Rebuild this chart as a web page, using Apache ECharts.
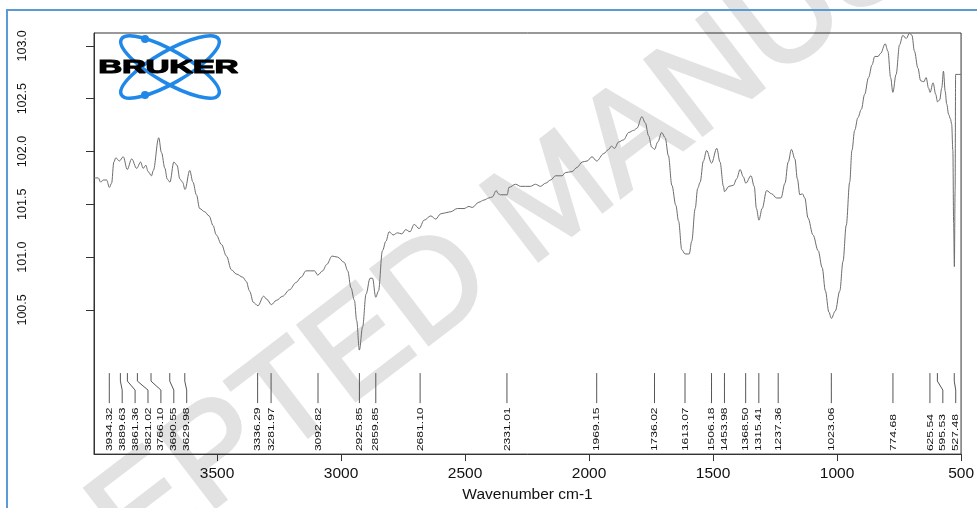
<!DOCTYPE html>
<html>
<head>
<meta charset="utf-8">
<script src="https://cdn.jsdelivr.net/npm/echarts@6/dist/echarts.min.js"></script>
<style>
  html, body { margin: 0; padding: 0; background: #ffffff; }
  #chart { width: 977px; height: 508px; }
</style>
</head>
<body>
<div id="chart"></div>
<script>
// FT-IR spectrum: wavenumber (cm-1) and transmittance (%)
const wavenumbers = [
  3996, 3979, 3969, 3959, 3945, 3934, 3925, 3916, 3908, 3894,
  3878, 3862, 3844, 3824, 3808, 3798, 3787, 3778, 3764, 3757,
  3735, 3724, 3710, 3701, 3690, 3674, 3661, 3650, 3639, 3629,
  3610, 3597, 3583, 3570, 3550, 3532, 3516, 3503, 3482, 3462,
  3442, 3422, 3396, 3382, 3369, 3353, 3335, 3312, 3299, 3281,
  3261, 3235, 3208, 3181, 3161, 3141, 3107, 3094, 3074, 3058,
  3036, 3014, 2987, 2973, 2960, 2946, 2937, 2926, 2913, 2899,
  2883, 2873, 2860, 2849, 2833, 2819, 2806, 2790, 2772, 2755,
  2739, 2722, 2705, 2685, 2665, 2638, 2618, 2598, 2578, 2558,
  2531, 2504, 2484, 2471, 2444, 2424, 2404, 2390, 2374, 2366,
  2357, 2330, 2323, 2296, 2276, 2256, 2236, 2216, 2196, 2175,
  2155, 2135, 2109, 2095, 2069, 2048, 2028, 2008, 1988, 1969,
  1941, 1921, 1910, 1897, 1881, 1861, 1840, 1820, 1807, 1787,
  1773, 1760, 1747, 1736, 1723, 1707, 1693, 1680, 1666, 1650,
  1639, 1626, 1613, 1596, 1586, 1572, 1562, 1552, 1539, 1526,
  1506, 1485, 1472, 1458, 1454, 1436, 1418, 1405, 1391, 1378,
  1368, 1347, 1334, 1325, 1315, 1302, 1284, 1264, 1244, 1226,
  1210, 1197, 1184, 1170, 1160, 1150, 1140, 1130, 1117, 1097,
  1076, 1060, 1047, 1033, 1023, 1007, 989, 976, 963, 949,
  940, 929, 916, 902, 889, 873, 859, 848, 835, 824,
  806, 795, 784, 775, 762, 748, 735, 721, 708, 698,
  688, 674, 663, 650, 641, 631, 625, 613, 602, 595,
  586, 578, 571, 564, 558, 550, 543, 538, 533, 530,
  527, 524, 522, 512, 500
];
const transmittance = [
  101.75, 101.75, 101.71, 101.73, 101.73, 101.66, 101.70, 101.90, 101.94, 101.91,
  101.95, 101.83, 101.93, 101.84, 101.90, 101.84, 101.87, 101.81, 101.77, 101.82,
  102.13, 101.99, 101.84, 101.74, 101.71, 101.90, 101.87, 101.74, 101.71, 101.64,
  101.82, 101.71, 101.59, 101.46, 101.43, 101.39, 101.30, 101.21, 101.12, 101.01,
  100.88, 100.84, 100.81, 100.77, 100.68, 100.57, 100.54, 100.63, 100.60, 100.55,
  100.59, 100.63, 100.69, 100.76, 100.81, 100.87, 100.87, 100.83, 100.87, 100.93,
  101.01, 101.00, 100.95, 100.87, 100.71, 100.59, 100.40, 100.12, 100.34, 100.65,
  100.80, 100.80, 100.62, 100.68, 101.06, 101.15, 101.24, 101.21, 101.23, 101.22,
  101.26, 101.24, 101.31, 101.27, 101.35, 101.39, 101.36, 101.41, 101.42, 101.43,
  101.46, 101.46, 101.48, 101.47, 101.52, 101.54, 101.56, 101.57, 101.63, 101.60,
  101.59, 101.59, 101.66, 101.69, 101.67, 101.67, 101.67, 101.69, 101.67, 101.70,
  101.73, 101.77, 101.77, 101.80, 101.81, 101.85, 101.90, 101.91, 101.95, 101.91,
  101.98, 102.02, 102.05, 102.03, 102.09, 102.11, 102.18, 102.20, 102.22, 102.33,
  102.27, 102.15, 102.04, 102.02, 102.09, 102.18, 102.13, 101.96, 101.68, 101.49,
  101.34, 101.07, 101.03, 101.03, 101.15, 101.46, 101.65, 101.71, 101.91, 102.01,
  101.89, 102.03, 101.90, 101.67, 101.62, 101.67, 101.68, 101.74, 101.83, 101.76,
  101.70, 101.77, 101.67, 101.46, 101.35, 101.46, 101.63, 101.60, 101.56, 101.56,
  101.70, 101.90, 102.02, 101.93, 101.74, 101.59, 101.60, 101.56, 101.37, 101.21,
  101.06, 100.90, 100.68, 100.48, 100.42, 100.49, 100.68, 100.96, 101.30, 101.71,
  102.01, 102.20, 102.32, 102.40, 102.54, 102.70, 102.82, 102.90, 102.90, 102.93,
  103.02, 102.95, 102.70, 102.56, 102.73, 103.01, 103.10, 103.07, 103.12, 103.10,
  102.95, 102.79, 102.67, 102.66, 102.70, 102.60, 102.56, 102.65, 102.54, 102.47,
  102.49, 102.60, 102.76, 102.57, 102.45, 102.35, 102.31, 102.26, 102.01, 101.32,
  100.91, 101.63, 102.73, 102.73, 102.73
];

// Picked peak positions (cm-1)
const peakWavenumbers = [
  3934.32, 3889.63, 3861.36, 3821.02, 3766.10, 3690.55, 3629.98,
  3336.29, 3281.97, 3092.82, 2925.85, 2859.85, 2681.10, 2331.01,
  1969.15, 1736.02, 1613.07, 1506.18, 1453.98, 1368.50, 1315.41,
  1237.36, 1023.06, 774.68, 625.54, 595.53, 527.48
];

const xTicks = [3500, 3000, 2500, 2000, 1500, 1000, 500];
const yTicks = [100.5, 101.0, 101.5, 102.0, 102.5, 103.0];

const X_MIN = 500, X_MAX = 3996;
const Y_MIN = 99.135, Y_MAX = 103.122;
const FONT = '"Liberation Sans", Arial, sans-serif';
const LABEL_GAP = 12.9;

const chart = echarts.init(document.getElementById('chart'), null, { renderer: 'canvas' });

const spectrum = wavenumbers.map((w, i) => [w, transmittance[i]]);

// Peak marker: a leader line from the top of the label band down to a
// vertical label; crowded labels are pushed apart left to right.
function renderPeak(params, api) {
  const cs = params.coordSys;
  const bottom = cs.y + cs.height;
  const xs = peakWavenumbers.map(w => api.coord([w, Y_MIN])[0]);
  const placed = [];
  xs.forEach((x, i) => {
    placed.push(i === 0 ? x : Math.max(x, placed[i - 1] + LABEL_GAP));
  });
  const i = params.dataIndex;
  const x0 = xs[i];
  const xl = placed[i];
  const top = bottom - 81, bend1 = bottom - 73, bend2 = bottom - 64, end = bottom - 51;
  return {
    type: 'group',
    children: [
      {
        type: 'polyline',
        shape: { points: [[x0, top], [x0, bend1], [xl, bend2], [xl, end]] },
        style: { stroke: '#555555', lineWidth: 1, fill: null }
      },
      {
        type: 'text',
        x: xl,
        y: bottom - 3,
        rotation: Math.PI / 2,
        scaleX: 1.3,
        style: {
          text: peakWavenumbers[i].toFixed(2),
          fontSize: 9.3,
          fontFamily: FONT,
          fill: '#111111',
          align: 'left',
          verticalAlign: 'middle'
        }
      }
    ]
  };
}

const option = {
  animation: false,
  backgroundColor: '#ffffff',
  grid: {
    left: 94, right: 14, top: 33, bottom: 50,
    show: true, borderColor: '#333333', borderWidth: 1
  },
  xAxis: {
    type: 'value',
    min: X_MIN, max: X_MAX,
    inverse: true,
    name: 'Wavenumber cm-1',
    nameLocation: 'middle',
    nameGap: 31,
    nameTextStyle: { fontFamily: FONT, fontSize: 15.5, color: '#111111' },
    axisLine: { show: true, onZero: false, lineStyle: { color: '#333333', width: 1 } },
    axisTick: { show: true, length: 7, customValues: xTicks, lineStyle: { color: '#333333' } },
    axisLabel: {
      customValues: xTicks,
      formatter: v => String(v),
      margin: 12,
      fontFamily: FONT, fontSize: 15.5, color: '#111111'
    },
    splitLine: { show: false }
  },
  yAxis: {
    type: 'value',
    min: Y_MIN, max: Y_MAX,
    axisLine: { show: true, lineStyle: { color: '#333333', width: 1 } },
    axisTick: { show: true, length: 8, customValues: yTicks, lineStyle: { color: '#333333' } },
    axisLabel: {
      customValues: yTicks,
      formatter: v => v.toFixed(1),
      rotate: 90,
      margin: 65,
      fontFamily: FONT, fontSize: 12.5, color: '#111111'
    },
    splitLine: { show: false }
  },
  series: [
    {
      type: 'line',
      data: spectrum,
      showSymbol: false,
      smooth: 0.35,
      smoothMonotone: 'x',
      lineStyle: { color: '#6c6c6c', width: 1 },
      silent: true,
      z: 3
    },
    {
      type: 'custom',
      data: peakWavenumbers.map(w => [w, Y_MIN]),
      encode: { x: 0, y: 1 },
      renderItem: renderPeak,
      silent: true,
      z: 4
    }
  ],
  graphic: [
    {
      type: 'text',
      z: -1,
      x: 555, y: 200,
      rotation: 0.653,
      style: {
        text: 'ACCEPTED MANUSCRIPT',
        fontSize: 138,
        fontFamily: FONT,
        fill: '#e2e2e2',
        stroke: '#e2e2e2',
        lineWidth: 3,
        lineJoin: 'round',
        align: 'center',
        verticalAlign: 'middle'
      }
    },
    {
      type: 'group',
      z: 10,
      children: [
        {
          type: 'ellipse', x: 170, y: 67, rotation: -0.52,
          shape: { cx: 0, cy: 0, rx: 56, ry: 16 },
          style: { fill: null, stroke: '#2088e8', lineWidth: 3.5 }
        },
        {
          type: 'ellipse', x: 170, y: 67, rotation: 0.52,
          shape: { cx: 0, cy: 0, rx: 56, ry: 16 },
          style: { fill: null, stroke: '#2088e8', lineWidth: 3.5 }
        },
        { type: 'circle', shape: { cx: 145, cy: 39, r: 4 }, style: { fill: '#2088e8' } },
        { type: 'circle', shape: { cx: 145, cy: 95, r: 4 }, style: { fill: '#2088e8' } },
        {
          type: 'text', x: 168.5, y: 67.5, scaleX: 1.72,
          style: {
            text: 'BRUKER', fontSize: 19, fontWeight: 'bold', fontFamily: FONT,
            fill: '#000000', stroke: '#000000', lineWidth: 1.2,
            align: 'center', verticalAlign: 'middle'
          }
        }
      ]
    },
    {
      type: 'rect', z: 100,
      shape: { x: 7, y: 10, width: 990, height: 520 },
      style: { fill: null, stroke: '#5b9bd5', lineWidth: 2 }
    }
  ]
};

chart.setOption(option);
</script>
</body>
</html>
